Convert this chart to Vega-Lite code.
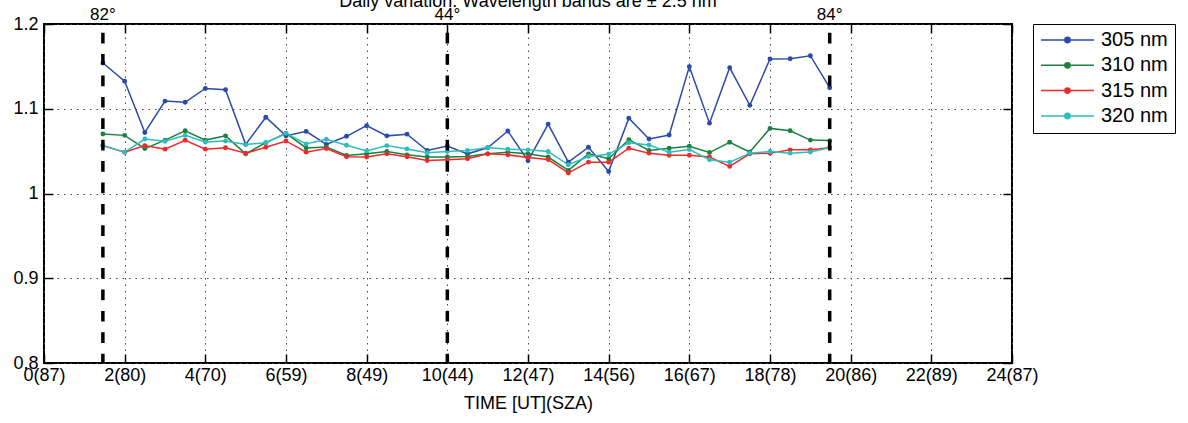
{
  "$schema": "https://vega.github.io/schema/vega-lite/v6.json",
  "width": 968,
  "height": 339,
  "autosize": {"type": "none"},
  "padding": {"left": 44, "top": 24, "right": 176, "bottom": 60},
  "background": "white",
  "config": {
    "font": "Liberation Sans",
    "view": {"stroke": "black", "strokeWidth": 2},
    "axis": {
      "labelColor": "black",
      "titleColor": "black",
      "labelFont": "Liberation Sans",
      "titleFont": "Liberation Sans",
      "tickColor": "black",
      "tickWidth": 1.5,
      "domain": false
    }
  },
  "datasets": {
    "obs": [
      {"t": 1.46, "band": "305 nm", "v": 1.154}, {"t": 2.0, "band": "305 nm", "v": 1.1325}, {"t": 2.5, "band": "305 nm", "v": 1.072}, {"t": 3.0, "band": "305 nm", "v": 1.109}, {"t": 3.5, "band": "305 nm", "v": 1.1076}, {"t": 4.0, "band": "305 nm", "v": 1.124}, {"t": 4.5, "band": "305 nm", "v": 1.1224}, {"t": 5.0, "band": "305 nm", "v": 1.058}, {"t": 5.5, "band": "305 nm", "v": 1.09}, {"t": 6.0, "band": "305 nm", "v": 1.068}, {"t": 6.5, "band": "305 nm", "v": 1.0733}, {"t": 7.0, "band": "305 nm", "v": 1.058}, {"t": 7.5, "band": "305 nm", "v": 1.0675}, {"t": 8.0, "band": "305 nm", "v": 1.08}, {"t": 8.5, "band": "305 nm", "v": 1.068}, {"t": 9.0, "band": "305 nm", "v": 1.07}, {"t": 9.5, "band": "305 nm", "v": 1.0507}, {"t": 10.0, "band": "305 nm", "v": 1.056}, {"t": 10.5, "band": "305 nm", "v": 1.0468}, {"t": 11.0, "band": "305 nm", "v": 1.054}, {"t": 11.5, "band": "305 nm", "v": 1.0737}, {"t": 12.0, "band": "305 nm", "v": 1.0386}, {"t": 12.5, "band": "305 nm", "v": 1.0819}, {"t": 13.0, "band": "305 nm", "v": 1.037}, {"t": 13.5, "band": "305 nm", "v": 1.0546}, {"t": 14.0, "band": "305 nm", "v": 1.026}, {"t": 14.5, "band": "305 nm", "v": 1.0889}, {"t": 15.0, "band": "305 nm", "v": 1.0643}, {"t": 15.5, "band": "305 nm", "v": 1.069}, {"t": 16.0, "band": "305 nm", "v": 1.1497}, {"t": 16.5, "band": "305 nm", "v": 1.083}, {"t": 17.0, "band": "305 nm", "v": 1.1485}, {"t": 17.5, "band": "305 nm", "v": 1.104}, {"t": 18.0, "band": "305 nm", "v": 1.1587}, {"t": 18.5, "band": "305 nm", "v": 1.159}, {"t": 19.0, "band": "305 nm", "v": 1.1626}, {"t": 19.48, "band": "305 nm", "v": 1.1248},
      {"t": 1.46, "band": "310 nm", "v": 1.0702}, {"t": 2.0, "band": "310 nm", "v": 1.0686}, {"t": 2.5, "band": "310 nm", "v": 1.053}, {"t": 3.0, "band": "310 nm", "v": 1.063}, {"t": 3.5, "band": "310 nm", "v": 1.074}, {"t": 4.0, "band": "310 nm", "v": 1.063}, {"t": 4.5, "band": "310 nm", "v": 1.068}, {"t": 5.0, "band": "310 nm", "v": 1.0468}, {"t": 5.5, "band": "310 nm", "v": 1.06}, {"t": 6.0, "band": "310 nm", "v": 1.071}, {"t": 6.5, "band": "310 nm", "v": 1.0538}, {"t": 7.0, "band": "310 nm", "v": 1.055}, {"t": 7.5, "band": "310 nm", "v": 1.0448}, {"t": 8.0, "band": "310 nm", "v": 1.0468}, {"t": 8.5, "band": "310 nm", "v": 1.0495}, {"t": 9.0, "band": "310 nm", "v": 1.0456}, {"t": 9.5, "band": "310 nm", "v": 1.043}, {"t": 10.0, "band": "310 nm", "v": 1.043}, {"t": 10.5, "band": "310 nm", "v": 1.0437}, {"t": 11.0, "band": "310 nm", "v": 1.0468}, {"t": 11.5, "band": "310 nm", "v": 1.0488}, {"t": 12.0, "band": "310 nm", "v": 1.0468}, {"t": 12.5, "band": "310 nm", "v": 1.043}, {"t": 13.0, "band": "310 nm", "v": 1.0273}, {"t": 13.5, "band": "310 nm", "v": 1.0468}, {"t": 14.0, "band": "310 nm", "v": 1.041}, {"t": 14.5, "band": "310 nm", "v": 1.0635}, {"t": 15.0, "band": "310 nm", "v": 1.0507}, {"t": 15.5, "band": "310 nm", "v": 1.0534}, {"t": 16.0, "band": "310 nm", "v": 1.0558}, {"t": 16.5, "band": "310 nm", "v": 1.0483}, {"t": 17.0, "band": "310 nm", "v": 1.0605}, {"t": 17.5, "band": "310 nm", "v": 1.049}, {"t": 18.0, "band": "310 nm", "v": 1.0768}, {"t": 18.5, "band": "310 nm", "v": 1.074}, {"t": 19.0, "band": "310 nm", "v": 1.063}, {"t": 19.48, "band": "310 nm", "v": 1.0624},
      {"t": 1.46, "band": "315 nm", "v": 1.0565}, {"t": 2.0, "band": "315 nm", "v": 1.0488}, {"t": 2.5, "band": "315 nm", "v": 1.0565}, {"t": 3.0, "band": "315 nm", "v": 1.0523}, {"t": 3.5, "band": "315 nm", "v": 1.0628}, {"t": 4.0, "band": "315 nm", "v": 1.0523}, {"t": 4.5, "band": "315 nm", "v": 1.054}, {"t": 5.0, "band": "315 nm", "v": 1.0476}, {"t": 5.5, "band": "315 nm", "v": 1.0546}, {"t": 6.0, "band": "315 nm", "v": 1.062}, {"t": 6.5, "band": "315 nm", "v": 1.0488}, {"t": 7.0, "band": "315 nm", "v": 1.053}, {"t": 7.5, "band": "315 nm", "v": 1.0433}, {"t": 8.0, "band": "315 nm", "v": 1.043}, {"t": 8.5, "band": "315 nm", "v": 1.0468}, {"t": 9.0, "band": "315 nm", "v": 1.0433}, {"t": 9.5, "band": "315 nm", "v": 1.039}, {"t": 10.0, "band": "315 nm", "v": 1.0398}, {"t": 10.5, "band": "315 nm", "v": 1.041}, {"t": 11.0, "band": "315 nm", "v": 1.0468}, {"t": 11.5, "band": "315 nm", "v": 1.0456}, {"t": 12.0, "band": "315 nm", "v": 1.0425}, {"t": 12.5, "band": "315 nm", "v": 1.0401}, {"t": 13.0, "band": "315 nm", "v": 1.0242}, {"t": 13.5, "band": "315 nm", "v": 1.037}, {"t": 14.0, "band": "315 nm", "v": 1.037}, {"t": 14.5, "band": "315 nm", "v": 1.0534}, {"t": 15.0, "band": "315 nm", "v": 1.0476}, {"t": 15.5, "band": "315 nm", "v": 1.0452}, {"t": 16.0, "band": "315 nm", "v": 1.0452}, {"t": 16.5, "band": "315 nm", "v": 1.043}, {"t": 17.0, "band": "315 nm", "v": 1.032}, {"t": 17.5, "band": "315 nm", "v": 1.0468}, {"t": 18.0, "band": "315 nm", "v": 1.0476}, {"t": 18.5, "band": "315 nm", "v": 1.0515}, {"t": 19.0, "band": "315 nm", "v": 1.0515}, {"t": 19.48, "band": "315 nm", "v": 1.054},
      {"t": 1.46, "band": "320 nm", "v": 1.0565}, {"t": 2.0, "band": "320 nm", "v": 1.0488}, {"t": 2.5, "band": "320 nm", "v": 1.0643}, {"t": 3.0, "band": "320 nm", "v": 1.0616}, {"t": 3.5, "band": "320 nm", "v": 1.0686}, {"t": 4.0, "band": "320 nm", "v": 1.0608}, {"t": 4.5, "band": "320 nm", "v": 1.062}, {"t": 5.0, "band": "320 nm", "v": 1.0577}, {"t": 5.5, "band": "320 nm", "v": 1.06}, {"t": 6.0, "band": "320 nm", "v": 1.071}, {"t": 6.5, "band": "320 nm", "v": 1.0585}, {"t": 7.0, "band": "320 nm", "v": 1.064}, {"t": 7.5, "band": "320 nm", "v": 1.057}, {"t": 8.0, "band": "320 nm", "v": 1.0503}, {"t": 8.5, "band": "320 nm", "v": 1.0565}, {"t": 9.0, "band": "320 nm", "v": 1.0526}, {"t": 9.5, "band": "320 nm", "v": 1.048}, {"t": 10.0, "band": "320 nm", "v": 1.0495}, {"t": 10.5, "band": "320 nm", "v": 1.0507}, {"t": 11.0, "band": "320 nm", "v": 1.0542}, {"t": 11.5, "band": "320 nm", "v": 1.0523}, {"t": 12.0, "band": "320 nm", "v": 1.0515}, {"t": 12.5, "band": "320 nm", "v": 1.0495}, {"t": 13.0, "band": "320 nm", "v": 1.0339}, {"t": 13.5, "band": "320 nm", "v": 1.0437}, {"t": 14.0, "band": "320 nm", "v": 1.0464}, {"t": 14.5, "band": "320 nm", "v": 1.06}, {"t": 15.0, "band": "320 nm", "v": 1.0573}, {"t": 15.5, "band": "320 nm", "v": 1.0488}, {"t": 16.0, "band": "320 nm", "v": 1.0518}, {"t": 16.5, "band": "320 nm", "v": 1.0398}, {"t": 17.0, "band": "320 nm", "v": 1.037}, {"t": 17.5, "band": "320 nm", "v": 1.0476}, {"t": 18.0, "band": "320 nm", "v": 1.0495}, {"t": 18.5, "band": "320 nm", "v": 1.0476}, {"t": 19.0, "band": "320 nm", "v": 1.049}, {"t": 19.48, "band": "320 nm", "v": 1.054}
    ],
    "szamarks": [
      {"t": 1.46, "sza": "82°", "top": 1.2},
      {"t": 10.0, "sza": "44°", "top": 1.2},
      {"t": 19.48, "sza": "84°", "top": 1.2}
    ],
    "titlerow": [
      {"t": 12, "top": 1.2, "label": "Daily variation. Wavelength bands are ± 2.5 nm"}
    ]
  },
  "resolve": {"axis": {"x": "independent", "y": "independent"}},
  "layer": [
    {
      "data": {"name": "obs"},
      "mark": {"type": "line", "strokeWidth": 1.5, "point": {"filled": true, "size": 24}},
      "encoding": {
        "x": {
          "field": "t", "type": "quantitative",
          "scale": {"domain": [0, 24], "nice": false, "zero": false},
          "axis": {
            "orient": "bottom",
            "values": [0, 2, 4, 6, 8, 10, 12, 14, 16, 18, 20, 22, 24],
            "labelExpr": "datum.value == 0 ? '0(87)' : datum.value == 2 ? '2(80)' : datum.value == 4 ? '4(70)' : datum.value == 6 ? '6(59)' : datum.value == 8 ? '8(49)' : datum.value == 10 ? '10(44)' : datum.value == 12 ? '12(47)' : datum.value == 14 ? '14(56)' : datum.value == 16 ? '16(67)' : datum.value == 18 ? '18(78)' : datum.value == 20 ? '20(86)' : datum.value == 22 ? '22(89)' : '24(87)'",
            "labelFlush": false,
            "labelFontSize": 18,
            "labelPadding": 12,
            "tickSize": -9,
            "grid": true,
            "gridDash": [1.5, 5],
            "gridColor": "#444444",
            "gridWidth": 1,
            "title": "TIME [UT](SZA)",
            "titleFontSize": 18,
            "titleFontWeight": "normal",
            "titlePadding": 10
          }
        },
        "y": {
          "field": "v", "type": "quantitative",
          "scale": {"domain": [0.8, 1.2], "nice": false, "zero": false},
          "axis": {
            "orient": "left",
            "values": [0.8, 0.9, 1.0, 1.1, 1.2],
            "labelExpr": "datum.value == 1 ? '1' : format(datum.value, '.1f')",
            "labelFlush": false,
            "labelFontSize": 18,
            "labelPadding": 15,
            "tickSize": -9,
            "grid": true,
            "gridDash": [1.5, 5],
            "gridColor": "#444444",
            "gridWidth": 1,
            "title": null
          }
        },
        "color": {
          "field": "band", "type": "nominal",
          "scale": {"domain": ["305 nm", "310 nm", "315 nm", "320 nm"], "range": ["#2b4ba9", "#1b8040", "#ee2a2a", "#2dbdbd"]},
          "legend": {
            "title": null,
            "orient": "none",
            "legendX": 989,
            "legendY": 0,
            "strokeColor": "black",
            "fillColor": "white",
            "padding": 7,
            "labelFontSize": 20,
            "labelColor": "black",
            "labelFont": "Liberation Sans",
            "labelOffset": 6,
            "symbolType": "M-1,0H1M0.1,0A0.1,0.1 0 1,1 -0.1,0A0.1,0.1 0 1,1 0.1,0Z",
            "symbolSize": 2809,
            "symbolStrokeWidth": 1.5,
            "clipHeight": 18,
            "rowPadding": 5.3
          }
        }
      }
    },
    {
      "data": {"name": "szamarks"},
      "mark": {"type": "rule", "color": "black", "strokeWidth": 3.5, "strokeDash": [10.7, 10.7], "strokeDashOffset": 12.7},
      "encoding": {
        "x": {
          "field": "t", "type": "quantitative",
          "axis": {
            "orient": "top",
            "values": [0, 2, 4, 6, 8, 10, 12, 14, 16, 18, 20, 22, 24],
            "labels": false,
            "tickSize": -9,
            "grid": false,
            "title": null
          }
        }
      }
    },
    {
      "data": {"name": "szamarks"},
      "mark": {"type": "text", "fontSize": 17, "baseline": "alphabetic", "align": "center", "dy": -4, "color": "black", "font": "Liberation Sans"},
      "encoding": {
        "x": {"field": "t", "type": "quantitative", "axis": null},
        "y": {
          "field": "top", "type": "quantitative",
          "axis": {
            "orient": "right",
            "values": [0.8, 0.9, 1.0, 1.1, 1.2],
            "labels": false,
            "tickSize": -9,
            "grid": false,
            "title": null
          }
        },
        "text": {"field": "sza"}
      }
    },
    {
      "data": {"name": "titlerow"},
      "mark": {"type": "text", "fontSize": 18, "baseline": "alphabetic", "align": "center", "dy": -17, "color": "black", "font": "Liberation Sans"},
      "encoding": {
        "x": {"field": "t", "type": "quantitative", "axis": null},
        "y": {"field": "top", "type": "quantitative", "axis": null},
        "text": {"field": "label"}
      }
    }
  ]
}
